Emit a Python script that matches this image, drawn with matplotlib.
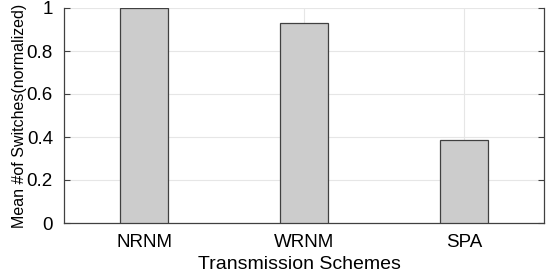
import matplotlib.pyplot as plt

# --- Data ---
schemes = ["NRNM", "WRNM", "SPA"]
mean_switches = [1.0, 0.929, 0.385]

plt.rcParams['font.family'] = ['Liberation Sans', 'DejaVu Sans']

fig = plt.figure(figsize=(5.56, 2.78), dpi=100)
ax = fig.add_axes([64 / 556, 1 - 223 / 278, 480 / 556, 215 / 278])

pos = list(range(1, len(schemes) + 1))
ax.bar(pos, mean_switches, width=0.3, color="#cccccc", edgecolor="#404040",
       linewidth=0.9, zorder=3)

ax.set_xlim(0.5, len(schemes) + 0.5)
ax.set_ylim(0, 1)
ax.set_xticks(pos)
ax.set_xticklabels(schemes, fontsize=13.5)
ax.set_yticks([0, 0.2, 0.4, 0.6, 0.8, 1])
ax.set_yticklabels(["0", "0.2", "0.4", "0.6", "0.8", "1"], fontsize=13.5)

ax.grid(True, color="#e6e6e6", linewidth=0.8, zorder=0)
ax.tick_params(axis="both", direction="in", length=4, color="#404040", right=True,
               top=False, labelcolor="#000000")
ax.tick_params(axis="x", pad=8)
ax.tick_params(axis="y", pad=8)
ax.spines["top"].set_visible(False)
for s in ("left", "right", "bottom"):
    ax.spines[s].set_color("#404040")
    ax.spines[s].set_linewidth(0.9)

ax.set_xlabel("Transmission Schemes", fontsize=14, labelpad=4)
ax.xaxis.set_label_coords(0.49, -0.155)
ax.set_ylabel("Mean #of Switches(normalized)", fontsize=11.5, labelpad=0)

fig.savefig("out.png", dpi=100)
